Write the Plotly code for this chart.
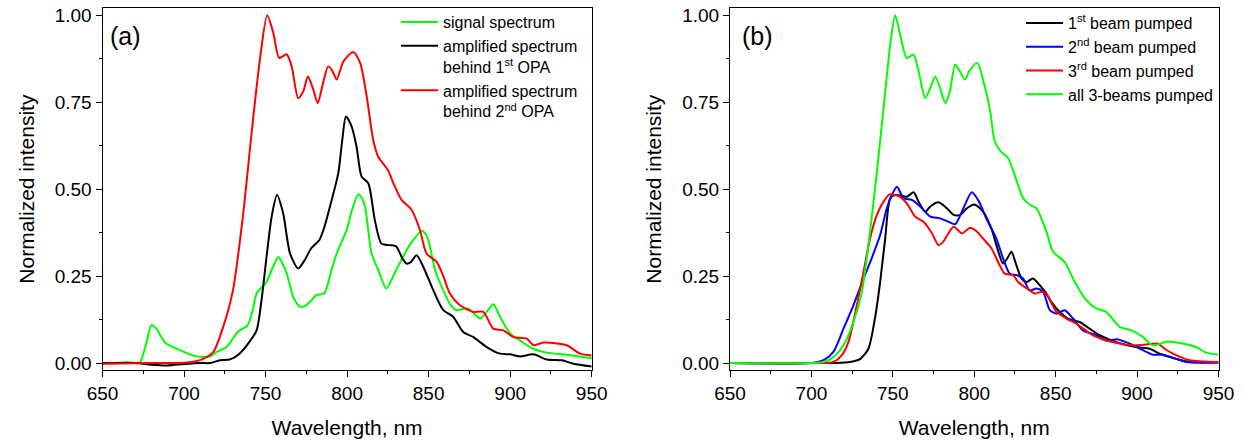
import plotly.graph_objects as go

# ---------------- Panel (a) data ----------------
a_signal_x = [650, 660, 665, 670, 673, 677, 680, 683, 686, 689, 695, 701, 706, 710, 716, 720, 726, 733, 739, 742,
              744.5, 750.6, 754, 757.8, 760, 763, 767, 771, 774, 778, 781, 786, 790, 793.6, 799.7, 803, 806.8, 809,
              811, 813, 815, 820, 824, 830, 836.5, 840, 845.7, 848, 850, 854, 859, 863, 867, 874, 878, 881.5, 885.6,
              889.7, 893.8, 900, 906, 914, 922.5, 935, 950]
a_signal_y = [0.0, 0.001, 0.003, 0.0, 0.002, 0.06, 0.109, 0.099, 0.075, 0.056, 0.042, 0.03, 0.021, 0.018, 0.019,
              0.032, 0.046, 0.09, 0.109, 0.15, 0.2, 0.233, 0.27, 0.305, 0.29, 0.257, 0.19, 0.163, 0.163, 0.18, 0.195,
              0.2, 0.26, 0.315, 0.382, 0.44, 0.485, 0.475, 0.45, 0.38, 0.315, 0.257, 0.214, 0.267, 0.325, 0.35, 0.38,
              0.372, 0.35, 0.267, 0.209, 0.17, 0.152, 0.157, 0.142, 0.128, 0.147, 0.169, 0.133, 0.085, 0.065, 0.041,
              0.03, 0.024, 0.014]

a_opa1_x = [650, 670, 680, 690, 700, 710, 716, 722, 728, 734, 740, 744.5, 747.5, 750.6, 753.7, 757, 760.8, 765, 770,
            774, 778, 783, 786, 789.5, 794.6, 797, 799.3, 802.8, 805.8, 808.9, 813, 817, 821, 826, 830, 834, 836.5,
            839, 842.6, 846.7, 852.9, 859, 865, 871.2, 877.3, 885.6, 893.8, 900, 906, 914.3, 922.5, 931.7, 938.8, 950]
a_opa1_y = [0.0, 0.0, -0.005, -0.007, -0.003, 0.0, 0.0, 0.008, 0.01, 0.027, 0.06, 0.094, 0.18, 0.305, 0.42, 0.483,
            0.43, 0.315, 0.272, 0.296, 0.33, 0.354, 0.39, 0.45, 0.546, 0.64, 0.709, 0.68, 0.622, 0.536, 0.517, 0.411,
            0.344, 0.339, 0.336, 0.3, 0.286, 0.29, 0.31, 0.277, 0.209, 0.152, 0.133, 0.089, 0.075, 0.046, 0.027,
            0.025, 0.019, 0.025, 0.01, 0.008, -0.002, -0.01]

a_opa2_x = [650, 680, 700, 706, 711.8, 718, 724, 730, 736.3, 741.4, 746.5, 751, 754.7, 758.4, 762.9, 766, 770, 773,
            776, 779, 782, 785, 788.4, 791, 793.6, 797.7, 803.8, 808, 812, 816, 819, 825, 829, 833.4, 839.6, 844.7,
            848.7, 854.9, 859, 863, 869.2, 877.3, 883.5, 889.6, 895.8, 902, 910.2, 914.3, 920.4, 934.7, 942.9, 950]
a_opa2_y = [-0.002, 0.0, 0.001, 0.004, 0.012, 0.032, 0.104, 0.209, 0.43, 0.66, 0.872, 1.0, 0.95, 0.877, 0.888, 0.853,
            0.762, 0.78, 0.824, 0.79, 0.747, 0.8, 0.853, 0.84, 0.815, 0.867, 0.894, 0.863, 0.767, 0.642, 0.594, 0.555,
            0.51, 0.469, 0.44, 0.382, 0.315, 0.291, 0.25, 0.2, 0.166, 0.147, 0.147, 0.099, 0.094, 0.075, 0.07, 0.051,
            0.059, 0.051, 0.027, 0.022]

# ---------------- Panel (b) data ----------------
b_beam1_x = [650, 700, 715, 723.8, 730, 735, 739, 742.2, 745.3, 748.4, 751.4, 755.5, 758.6, 762.7, 765.8, 769.9, 773,
             778, 783.2, 787.3, 791.4, 795.5, 800, 805.5, 810.5, 813.6, 817.7, 820.8, 822.8, 825.9, 829, 832, 836,
             840.2, 844.3, 847.3, 852.5, 857.6, 864.7, 870.8, 877, 887.2, 899.5, 907.7, 913.8, 924, 932.3, 950]
b_beam1_y = [0.0, 0.0, 0.0, 0.003, 0.012, 0.041, 0.128, 0.233, 0.358, 0.474, 0.483, 0.481, 0.478, 0.491, 0.464,
             0.435, 0.45, 0.462, 0.445, 0.426, 0.426, 0.445, 0.456, 0.435, 0.387, 0.339, 0.286, 0.305, 0.32, 0.281,
             0.243, 0.233, 0.243, 0.224, 0.2, 0.176, 0.147, 0.128, 0.118, 0.099, 0.08, 0.06, 0.046, 0.041, 0.027,
             0.012, 0.003, 0.003]

b_beam2_x = [650, 700, 707.4, 713.5, 719.7, 725.8, 732, 737, 742.2, 746.3, 749.4, 752.5, 756.6, 761.7, 766.8, 773,
             779, 784.2, 788.3, 792.4, 798.5, 802.6, 807.6, 813.6, 817.7, 821.8, 825.9, 830, 834, 838.2, 842.3, 846.4,
             850.5, 855.5, 860.7, 866.8, 875, 881, 888.2, 895.4, 903.6, 909.7, 915.8, 924, 930.2, 950]
b_beam2_y = [0.0, 0.0, 0.008, 0.032, 0.099, 0.166, 0.243, 0.301, 0.368, 0.445, 0.483, 0.507, 0.474, 0.469, 0.45,
             0.421, 0.416, 0.406, 0.399, 0.435, 0.491, 0.467, 0.414, 0.358, 0.301, 0.257, 0.253, 0.243, 0.209, 0.214,
             0.205, 0.152, 0.142, 0.152, 0.128, 0.094, 0.08, 0.065, 0.068, 0.056, 0.037, 0.024, 0.024, 0.012, 0.003,
             0.001]

b_beam3_x = [650, 700, 713.5, 718.6, 722.7, 727.9, 732, 736, 740.2, 744.3, 748, 751.4, 754.5, 758.6, 763.7, 768.9,
             774, 778, 781, 787.3, 792.4, 797.5, 801.6, 805, 810.5, 815.6, 818.7, 823.8, 826.9, 834, 837, 842.3,
             845.4, 850.5, 856.6, 862.7, 869.9, 875, 881, 889.3, 896.4, 905.6, 912.7, 916.9, 922, 932.3, 950]
b_beam3_y = [0.0, 0.0, 0.003, 0.022, 0.06, 0.166, 0.262, 0.358, 0.426, 0.464, 0.485, 0.483, 0.478, 0.459, 0.421,
             0.406, 0.373, 0.339, 0.349, 0.392, 0.373, 0.389, 0.378, 0.36, 0.33, 0.281, 0.257, 0.253, 0.233, 0.209,
             0.2, 0.205, 0.19, 0.147, 0.128, 0.113, 0.089, 0.075, 0.065, 0.056, 0.051, 0.053, 0.056, 0.041, 0.027,
             0.008, 0.003]

b_all_x = [650, 700, 707.4, 713.5, 719.7, 725.8, 731, 736, 740, 744.3, 748.4, 751.4, 754.5, 758.6, 762.7, 765.8,
           769.9, 773, 776, 779, 782.3, 785, 788.3, 791, 794.3, 797, 801.8, 806.2, 809.8, 812.6, 816, 820.8, 824.8,
           830, 834, 838.2, 844.3, 848.4, 855.5, 861.7, 868.8, 875, 881, 889.3, 896.4, 903.6, 909.7, 918.9, 928,
           936.3, 942.4, 950]
b_all_y = [0.0, 0.0, 0.003, 0.017, 0.051, 0.118, 0.205, 0.378, 0.541, 0.733, 0.915, 1.0, 0.944, 0.877, 0.887, 0.839,
           0.762, 0.791, 0.824, 0.791, 0.747, 0.781, 0.858, 0.84, 0.815, 0.84, 0.863, 0.8, 0.723, 0.637, 0.61, 0.589,
           0.541, 0.474, 0.455, 0.445, 0.378, 0.32, 0.291, 0.233, 0.181, 0.157, 0.147, 0.104, 0.094, 0.075, 0.051,
           0.062, 0.056, 0.046, 0.03, 0.024]

a_names = ["signal spectrum",
           "amplified spectrum<br>behind 1<sup>st</sup> OPA",
           "amplified spectrum<br>behind 2<sup>nd</sup> OPA"]
b_names = ["1<sup>st</sup> beam pumped", "2<sup>nd</sup> beam pumped",
           "3<sup>rd</sup> beam pumped", "all 3-beams pumped"]

x_ticks = [650, 700, 750, 800, 850, 900, 950]
y_ticks = [0.0, 0.25, 0.5, 0.75, 1.0]

GREEN, BLACK, RED, BLUE = "#00FF00", "#000000", "#FF0000", "#0000FF"
FONT = "Liberation Sans, Arial, sans-serif"
W, H = 1245, 441

fig = go.Figure()

def add(x, y, name, color, xa, ya, legend):
    fig.add_trace(go.Scatter(x=x, y=y, name=name, mode="lines",
                             line=dict(color=color, width=2, shape="spline", smoothing=0.7),
                             xaxis=xa, yaxis=ya, legend=legend))

add(a_signal_x, a_signal_y, a_names[0], GREEN, "x", "y", "legend")
add(a_opa1_x, a_opa1_y, a_names[1], BLACK, "x", "y", "legend")
add(a_opa2_x, a_opa2_y, a_names[2], RED, "x", "y", "legend")

add(b_beam1_x, b_beam1_y, b_names[0], BLACK, "x2", "y2", "legend2")
add(b_beam2_x, b_beam2_y, b_names[1], BLUE, "x2", "y2", "legend2")
add(b_beam3_x, b_beam3_y, b_names[2], RED, "x2", "y2", "legend2")
add(b_all_x, b_all_y, b_names[3], GREEN, "x2", "y2", "legend2")

def xaxis_style(domain, anchor):
    return dict(domain=domain, anchor=anchor, range=[650, 950], tickvals=x_ticks,
                ticktext=[str(v) for v in x_ticks], automargin=False,
                showline=True, mirror=True, linecolor="black", linewidth=1,
                ticks="outside", ticklen=6, tickwidth=1, tickcolor="black",
                minor=dict(dtick=25, tick0=650, ticks="outside", ticklen=3, tickcolor="black", showgrid=False),
                showgrid=False, zeroline=False,
                tickfont=dict(family=FONT, size=19, color="black"),
                title=dict(text="Wavelength, nm", font=dict(family=FONT, size=21, color="black"), standoff=17))

def yaxis_style(anchor):
    return dict(domain=[1 - 370 / H, 1 - 8.3 / H], anchor=anchor, range=[-0.02, 1.02], tickvals=y_ticks,
                ticktext=["%.2f" % v for v in y_ticks], automargin=False,
                showline=True, mirror=True, linecolor="black", linewidth=1,
                ticks="outside", ticklen=6, tickwidth=1, tickcolor="black",
                minor=dict(dtick=0.125, tick0=0, ticks="outside", ticklen=3, tickcolor="black", showgrid=False),
                showgrid=False, zeroline=False,
                tickfont=dict(family=FONT, size=19, color="black"),
                title=dict(text="Normalized intensity", font=dict(family=FONT, size=21, color="black"), standoff=14))

leg_common = dict(font=dict(family=FONT, size=16, color="black"), bgcolor="rgba(0,0,0,0)",
                  borderwidth=0, xanchor="left", yanchor="top", valign="top",
                  tracegroupgap=0, itemwidth=37, xref="paper", yref="paper")

fig.update_layout(
    width=W, height=H, margin=dict(l=0, r=0, t=0, b=0, autoexpand=False),
    paper_bgcolor="white", plot_bgcolor="white",
    font=dict(family=FONT, color="black"),
    xaxis=xaxis_style([102.5 / W, 591.7 / W], "y"),
    yaxis=yaxis_style("x"),
    xaxis2=xaxis_style([730 / W, 1218.5 / W], "y2"),
    yaxis2=yaxis_style("x2"),
    legend=dict(x=396 / W, y=1 - 5 / H, **leg_common),
    legend2=dict(x=1021 / W, y=1 - 6 / H, **leg_common),
    annotations=[
        dict(text="(a)", x=125 / W, y=1 - 36 / H, xref="paper", yref="paper", showarrow=False,
             xanchor="center", yanchor="middle", font=dict(family=FONT, size=25, color="black")),
        dict(text="(b)", x=757 / W, y=1 - 36 / H, xref="paper", yref="paper", showarrow=False,
             xanchor="center", yanchor="middle", font=dict(family=FONT, size=25, color="black")),
    ],
)

fig.write_html("out.html", config={"displayModeBar": False},
               post_script="document.body.style.margin='0px';")
